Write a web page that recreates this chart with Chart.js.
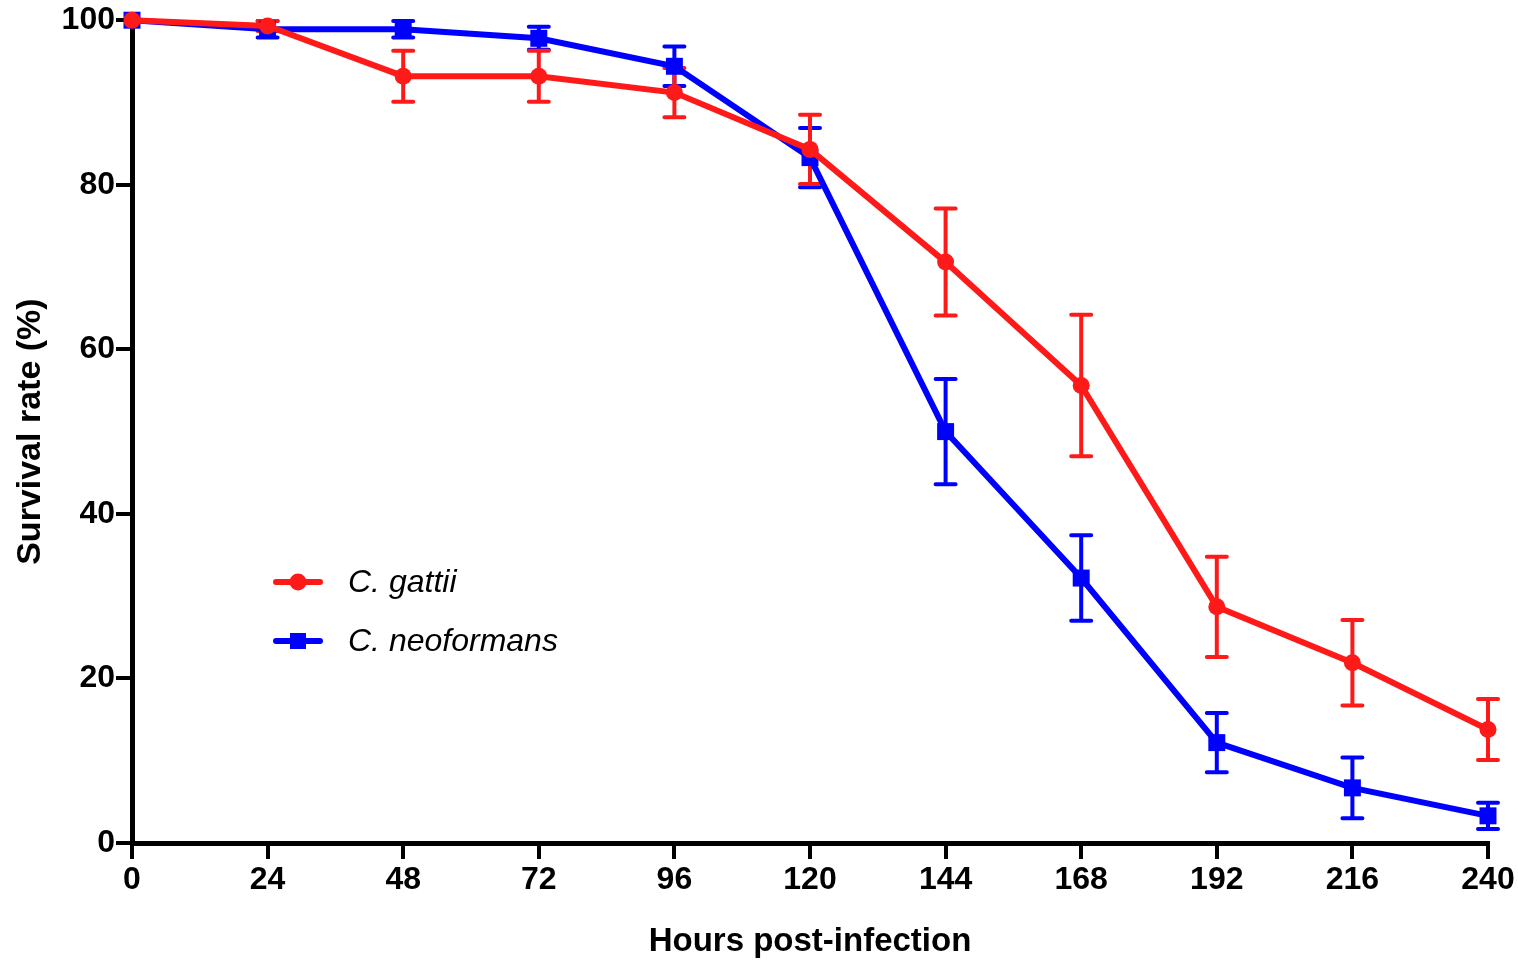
<!DOCTYPE html>
<html>
<head>
<meta charset="utf-8">
<script src="https://cdn.jsdelivr.net/npm/chart.js@4/dist/chart.umd.min.js"></script>
<style>
html,body{margin:0;padding:0;background:#fff;}
#wrap{width:1518px;height:962px;position:relative;}
</style>
</head>
<body>
<div id="wrap"><canvas id="c" width="1518" height="962"></canvas></div>
<script>
const hours = [0, 24, 48, 72, 96, 120, 144, 168, 192, 216, 240];
const xTicks = [0, 24, 48, 72, 96, 120, 144, 168, 192, 216, 240];
const yTicks = [0, 20, 40, 60, 80, 100];
const gattiiMean = [100, 99.3, 93.2, 93.2, 91.2, 84.3, 70.6, 55.6, 28.7, 21.9, 13.8];
const gattiiErr  = [0, 0.6, 3.1, 3.1, 3.0, 4.2, 6.5, 8.6, 6.1, 5.2, 3.7];
const neoMean = [100, 98.9, 98.9, 97.8, 94.4, 83.3, 50.0, 32.2, 12.2, 6.7, 3.3];
const neoErr  = [0, 1.0, 1.0, 1.4, 2.4, 3.6, 6.4, 5.2, 3.6, 3.7, 1.6];
const seriesLabels = ['C. gattii', 'C. neoformans'];
const RED = '#ff1a1a', BLUE = '#0000ff';

const errorBars = {
  id: 'errorBars',
  beforeDatasetsDraw(chart) {
    const ctx = chart.ctx, x = chart.scales.x, y = chart.scales.y;
    for (let d = chart.data.datasets.length - 1; d >= 0; d--) {
      const ds = chart.data.datasets[d];
      ctx.save();
      ctx.strokeStyle = ds.borderColor;
      ctx.lineWidth = 4;
      ctx.lineCap = 'round';
      ds.data.forEach((p, i) => {
        const e = ds.errors[i];
        if (!e) return;
        const px = x.getPixelForValue(p.x);
        const yt = y.getPixelForValue(p.y + e), yb = y.getPixelForValue(p.y - e);
        ctx.beginPath();
        ctx.moveTo(px, yt); ctx.lineTo(px, yb);
        ctx.moveTo(px - 10, yt); ctx.lineTo(px + 10, yt);
        ctx.moveTo(px - 10, yb); ctx.lineTo(px + 10, yb);
        ctx.stroke();
      });
      ctx.restore();
    }
  }
};

const customLegend = {
  id: 'customLegend',
  afterDraw(chart) {
    const ctx = chart.ctx;
    const rows = [582, 641];
    chart.data.datasets.forEach((ds, i) => {
      const yy = rows[i];
      ctx.save();
      ctx.strokeStyle = ds.borderColor; ctx.lineWidth = 6; ctx.lineCap = 'round';
      ctx.beginPath(); ctx.moveTo(276, yy); ctx.lineTo(320, yy); ctx.stroke();
      ctx.fillStyle = ds.borderColor;
      if (ds.pointStyle === 'rect') { ctx.fillRect(290, yy - 8, 16, 16); }
      else { ctx.beginPath(); ctx.arc(298, yy, 8.5, 0, Math.PI * 2); ctx.fill(); }
      ctx.fillStyle = '#000';
      ctx.font = 'italic 32px "Liberation Sans", Arial, sans-serif';
      ctx.textBaseline = 'middle';
      ctx.fillText(ds.label, 348, yy + 1);
      ctx.restore();
    });
  }
};

const toPts = (m) => hours.map((h, i) => ({x: h, y: m[i]}));

new Chart(document.getElementById('c'), {
  type: 'line',
  data: {
    datasets: [
      { label: seriesLabels[0], data: toPts(gattiiMean), errors: gattiiErr,
        borderColor: RED, backgroundColor: RED, borderWidth: 6,
        pointStyle: 'circle', pointRadius: 8.5, pointHoverRadius: 8.5, pointBorderWidth: 0,
        tension: 0, clip: false },
      { label: seriesLabels[1], data: toPts(neoMean), errors: neoErr,
        borderColor: BLUE, backgroundColor: BLUE, borderWidth: 6,
        pointStyle: 'rect', pointRadius: 12, pointHoverRadius: 12, pointBorderWidth: 0,
        tension: 0, clip: false }
    ]
  },
  options: {
    responsive: false,
    animation: false,
    events: [],
    layout: { padding: { top: 18, right: 30, left: 0, bottom: 0 } },
    plugins: { legend: { display: false }, tooltip: { enabled: false } },
    scales: {
      x: {
        type: 'linear', min: 0, max: 240,
        afterBuildTicks: (s) => { s.ticks = xTicks.map(v => ({value: v})); },
        afterFit: (s) => { s.height = 119; },
        border: { display: true, color: '#000', width: 5 },
        grid: { display: true, drawOnChartArea: false, drawTicks: true, tickLength: 16, color: '#000', lineWidth: 4 },
        ticks: { color: '#000', padding: 2, font: { family: '"Liberation Sans", Arial, sans-serif', size: 32, weight: 'bold' } },
        title: { display: true, text: 'Hours post-infection', color: '#000', padding: { top: 0, bottom: 0 },
                 font: { family: '"Liberation Sans", Arial, sans-serif', size: 33, weight: 'bold' } }
      },
      y: {
        type: 'linear', min: 0, max: 100,
        afterBuildTicks: (s) => { s.ticks = yTicks.map(v => ({value: v})); },
        afterFit: (s) => { s.width = 132; },
        border: { display: true, color: '#000', width: 5 },
        grid: { display: true, drawOnChartArea: false, drawTicks: true, tickLength: 16, color: '#000', lineWidth: 4 },
        ticks: { color: '#000', padding: 1, font: { family: '"Liberation Sans", Arial, sans-serif', size: 32, weight: 'bold' } },
        title: { display: true, text: 'Survival rate (%)', color: '#000', padding: { top: 10, bottom: 0 },
                 font: { family: '"Liberation Sans", Arial, sans-serif', size: 34, weight: 'bold' } }
      }
    }
  },
  plugins: [errorBars, customLegend]
});
</script>
</body>
</html>
